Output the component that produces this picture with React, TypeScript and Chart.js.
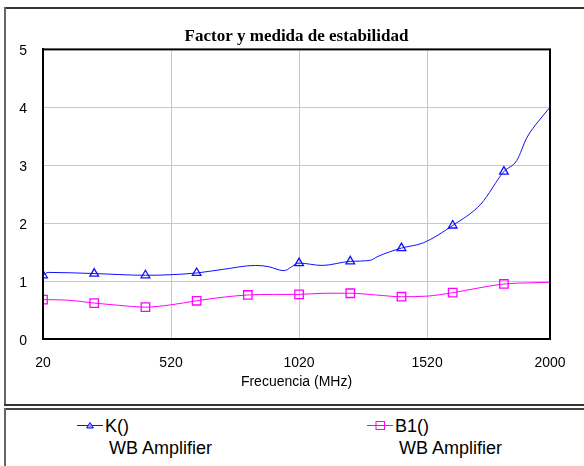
import React, { useEffect, useRef } from "react";
import { Chart, registerables } from "chart.js";

Chart.register(...registerables);

const chartTitle = "Factor y medida de estabilidad";
const xAxisTitle = "Frecuencia (MHz)";
const xTickValues = [20, 520, 1020, 1520, 2000];
const yTickMin = 0;
const yTickMax = 5;

const kFreqs = [20, 40, 220, 420, 520, 620, 720, 850, 900, 960, 1020, 1110, 1220, 1300, 1325, 1420, 1505, 1620, 1730, 1820, 1870, 1910, 1955, 2000];
const kValues = [1.1, 1.15, 1.13, 1.1, 1.11, 1.14, 1.2, 1.27, 1.25, 1.18, 1.31, 1.27, 1.34, 1.36, 1.42, 1.57, 1.66, 1.96, 2.33, 2.89, 3.08, 3.48, 3.76, 4.0];

const bFreqs = [20, 120, 220, 320, 420, 520, 620, 720, 820, 920, 1020, 1120, 1220, 1320, 1420, 1520, 1620, 1720, 1820, 1920, 2000];
const bValues = [0.68, 0.67, 0.62, 0.58, 0.55, 0.59, 0.66, 0.72, 0.76, 0.77, 0.77, 0.79, 0.79, 0.76, 0.73, 0.74, 0.8, 0.88, 0.95, 0.97, 0.98];

const markerFreqs = [20, 220, 420, 620, 820, 1020, 1220, 1420, 1620, 1820];

const legendItems = [
  { name: "K()", sub: "WB Amplifier" },
  { name: "B1()", sub: "WB Amplifier" },
];

const BLUE = "#1010ff";
const MAGENTA = "#ff00ff";

export default function App() {
  const ref = useRef<HTMLCanvasElement | null>(null);

  useEffect(() => {
    if (!ref.current) return;
    const frame = {
      id: "frame",
      afterDatasetsDraw(chart: any) {
        const { ctx, chartArea } = chart;
        ctx.save();
        ctx.strokeStyle = "#000";
        ctx.lineWidth = 2;
        ctx.strokeRect(chartArea.left, chartArea.top, chartArea.right - chartArea.left, chartArea.bottom - chartArea.top);
        ctx.restore();
      },
    };
    const chart = new Chart(ref.current, {
      type: "line",
      data: {
        datasets: [
          {
            label: "K()",
            data: kFreqs.map((x, i) => ({ x, y: kValues[i] })),
            borderColor: BLUE,
            backgroundColor: "#ffffff",
            borderWidth: 1,
            pointStyle: "triangle",
            pointRadius: (c: any) => (markerFreqs.includes(kFreqs[c.dataIndex]) ? 5 : 0),
            pointBorderWidth: 1.3,
            pointBorderColor: BLUE,
            pointBackgroundColor: "rgba(255,255,255,0)",
            cubicInterpolationMode: "monotone",
          },
          {
            label: "B1()",
            data: bFreqs.map((x, i) => ({ x, y: bValues[i] })),
            borderColor: MAGENTA,
            backgroundColor: "#ffffff",
            borderWidth: 1,
            pointStyle: "rect",
            pointRadius: (c: any) => (markerFreqs.includes(bFreqs[c.dataIndex]) ? 6 : 0),
            pointBorderWidth: 1.3,
            pointBorderColor: MAGENTA,
            pointBackgroundColor: "rgba(255,255,255,0)",
            cubicInterpolationMode: "monotone",
          },
        ],
      },
      options: {
        animation: false,
        responsive: false,
        maintainAspectRatio: false,
        layout: { padding: { left: 0, right: 34, top: 0, bottom: 0 } },
        plugins: {
          legend: { display: false },
          tooltip: { enabled: false },
          title: {
            display: true,
            fullSize: false,
            text: chartTitle,
            color: "#000",
            font: { family: "'Liberation Serif', 'Times New Roman', serif", size: 17, weight: "bold" },
            padding: { top: 26, bottom: 3 },
          },
        },
        scales: {
          x: {
            type: "linear",
            min: 20,
            max: 2000,
            afterBuildTicks: (s: any) => {
              s.ticks = xTickValues.map((v) => ({ value: v }));
            },
            afterFit: (s: any) => {
              s.height = 66;
            },
            grid: { color: "#c8c8c8", drawTicks: false, lineWidth: 1 },
            border: { display: true, color: "#000", width: 2 },
            ticks: {
              color: "#000",
              font: { family: "'Liberation Sans', Arial, sans-serif", size: 14 },
              padding: 16,
              maxRotation: 0,
              autoSkip: false,
              callback: (v: any) => String(v),
            },
            title: {
              display: true,
              text: xAxisTitle,
              color: "#000",
              font: { family: "'Liberation Sans', Arial, sans-serif", size: 14 },
              padding: { top: 0, bottom: 14 },
            },
          },
          y: {
            min: yTickMin,
            max: yTickMax,
            afterFit: (s: any) => {
              s.width = 43;
            },
            grid: { color: "#c8c8c8", drawTicks: false, lineWidth: 1 },
            border: { display: true, color: "#000", width: 2 },
            ticks: {
              stepSize: 1,
              color: "#000",
              font: { family: "'Liberation Sans', Arial, sans-serif", size: 14 },
              padding: 16,
              labelOffset: 2,
              callback: (v: any) => String(v),
            },
          },
        },
      },
      plugins: [frame],
    } as any);
    return () => chart.destroy();
  }, []);

  const textFont = "'Liberation Sans', Arial, sans-serif";
  const line = (left: number, top: number, width: number, height: number, color: string) => (
    <div style={{ position: "absolute", left, top, width, height, background: color }} />
  );

  return (
    <div style={{ position: "fixed", left: 0, top: 0, width: 584, height: 466, overflow: "hidden", background: "#fff" }}>
      {line(4, 7, 580, 1.5, "#333")}
      {line(4, 7, 1.5, 399, "#666")}
      {line(4, 404, 580, 2, "#333")}
      {line(4, 408, 580, 2, "#444")}
      {line(4, 408, 1.5, 58, "#666")}
      <canvas ref={ref} width={584} height={405} style={{ position: "absolute", left: 0, top: 0, width: 584, height: 405 }} />
      {legendItems.map((it, i) => {
        const baseX = i === 0 ? 77 : 367;
        const color = i === 0 ? BLUE : MAGENTA;
        return (
          <React.Fragment key={it.name}>
            <svg style={{ position: "absolute", left: baseX, top: 419, width: 27, height: 14 }} width={27} height={14}>
              <line x1={0} y1={6.5} x2={26} y2={6.5} stroke={color} strokeWidth={1} />
              {i === 0 ? (
                <polygon points="13,3.5 16.5,9 9.5,9" fill="#a0a0ff" stroke={color} strokeWidth={1} />
              ) : (
                <rect x={9} y={2.5} width={8.5} height={8} fill="none" stroke={color} strokeWidth={1} />
              )}
            </svg>
            <div style={{ position: "absolute", left: baseX + 28, top: 415, fontFamily: textFont, fontSize: 18, lineHeight: "22px", color: "#000", whiteSpace: "nowrap" }}>
              {it.name}
            </div>
            <div style={{ position: "absolute", left: baseX + 32, top: 437, fontFamily: textFont, fontSize: 18, lineHeight: "22px", color: "#000", whiteSpace: "nowrap" }}>
              {it.sub}
            </div>
          </React.Fragment>
        );
      })}
    </div>
  );
}
